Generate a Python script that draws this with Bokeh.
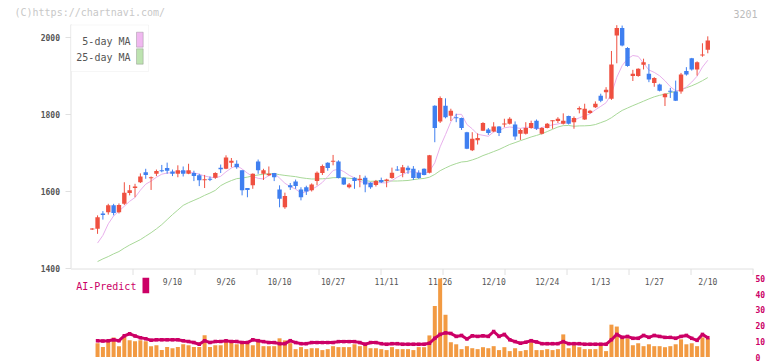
import pandas as pd
from bokeh.plotting import figure
from bokeh.models import Range1d, ColumnDataSource, Label, BoxAnnotation
from bokeh.core.properties import value
from bokeh.embed import file_html
from bokeh.resources import INLINE

nan = float("nan")

# ---------------- data ----------------
DATE_LABELS = ["9/10", "9/26", "10/10", "10/27", "11/11", "11/26",
               "12/10", "12/24", "1/13", "1/27", "2/10"]
LABEL_IDX = [15, 25, 35, 45, 55, 65, 75, 85, 95, 105, 115]

OPEN = [1502, 1503, 1543, 1546, 1564, 1546, 1568, 1596, 1609, 1624,
        1650, 1635, 1646, 1655, 1661, 1652, 1646, 1655, 1646, 1648,
        1642, 1630, 1632, 1636, 1662, 1659, 1675, 1672, 1655, 1609,
        1616, 1678, 1646, 1642, 1648, 1605, 1559, 1616, 1626, 1605,
        1611, 1603, 1627, 1648, 1675, 1678, 1678, 1636, 1611, 1636,
        1630, 1636, 1623, 1617, 1630, 1627, 1635, 1657, 1648, 1662,
        1659, 1649, 1659, 1649, 1823, 1782, 1823, 1797, 1792, 1791,
        1754, 1707, 1733, 1758, 1761, 1756, 1769, 1775, 1776, 1774,
        1750, 1750, 1765, 1784, 1750, 1765, 1784, 1783, 1776, 1796,
        1780, 1813, 1787, 1804, 1819, 1849, 1858, 1841, 2005, 2025,
        1973, 1900, 1900, 1929, 1906, 1882, 1878, 1845, 1861, 1860,
        1860, 1913, 1946, 1917, 1954, 1968]
HIGH = [1505, 1538, 1549, 1568, 1568, 1569, 1624, 1617, 1620, 1647,
        1659, 1639, 1657, 1669, 1675, 1657, 1668, 1665, 1672, 1654,
        1646, 1643, 1639, 1650, 1670, 1694, 1687, 1681, 1655, 1609,
        1647, 1683, 1659, 1665, 1648, 1616, 1597, 1622, 1631, 1611,
        1615, 1621, 1652, 1670, 1676, 1695, 1681, 1637, 1622, 1637,
        1643, 1641, 1624, 1630, 1636, 1633, 1662, 1666, 1669, 1667,
        1666, 1655, 1660, 1695, 1824, 1847, 1842, 1815, 1802, 1792,
        1755, 1754, 1751, 1780, 1765, 1780, 1770, 1789, 1793, 1782,
        1763, 1780, 1784, 1787, 1767, 1778, 1785, 1793, 1803, 1797,
        1795, 1821, 1828, 1812, 1834, 1854, 1871, 1965, 2032, 2031,
        1975, 1916, 1920, 1945, 1931, 1897, 1880, 1855, 1869, 1888,
        1908, 1923, 1947, 1938, 1985, 2003]
LOW = [1500, 1490, 1527, 1540, 1538, 1543, 1565, 1590, 1585, 1622,
       1633, 1604, 1640, 1650, 1646, 1640, 1637, 1639, 1645, 1627,
       1614, 1609, 1627, 1633, 1648, 1658, 1663, 1659, 1590, 1585,
       1607, 1646, 1630, 1640, 1627, 1559, 1555, 1604, 1607, 1577,
       1591, 1600, 1616, 1643, 1654, 1668, 1634, 1617, 1608, 1607,
       1611, 1598, 1607, 1613, 1622, 1611, 1633, 1654, 1637, 1646,
       1630, 1633, 1642, 1647, 1728, 1778, 1790, 1783, 1780, 1760,
       1710, 1705, 1722, 1757, 1747, 1754, 1744, 1767, 1774, 1734,
       1734, 1748, 1763, 1760, 1748, 1764, 1763, 1778, 1774, 1774,
       1763, 1803, 1786, 1802, 1817, 1832, 1841, 1838, 1933, 1977,
       1924, 1887, 1898, 1917, 1884, 1872, 1860, 1822, 1843, 1835,
       1854, 1901, 1914, 1901, 1950, 1959]
CLOSE = [1503, 1533, 1539, 1564, 1544, 1565, 1597, 1603, 1613, 1639,
         1643, 1637, 1653, 1653, 1654, 1646, 1655, 1646, 1655, 1640,
         1629, 1631, 1631, 1648, 1658, 1688, 1680, 1663, 1603, 1604,
         1646, 1655, 1655, 1646, 1637, 1581, 1588, 1611, 1614, 1585,
         1600, 1618, 1649, 1666, 1661, 1679, 1635, 1618, 1618, 1627,
         1633, 1618, 1611, 1627, 1624, 1631, 1649, 1655, 1663, 1655,
         1635, 1635, 1643, 1694, 1765, 1843, 1793, 1810, 1791, 1765,
         1711, 1737, 1739, 1778, 1752, 1769, 1752, 1776, 1789, 1743,
         1760, 1765, 1778, 1763, 1765, 1776, 1784, 1789, 1784, 1776,
         1791, 1817, 1815, 1810, 1828, 1836, 1864, 1930, 2025, 1979,
         1926, 1906, 1919, 1936, 1891, 1895, 1862, 1854, 1860, 1836,
         1904, 1904, 1917, 1936, 1955, 1992]

VOLUME = [nan,
          8.8, 6.3, 10.2, 12.5, 6.9, 13.5, 10.6, 10, 10.6, 10,
          6.9, 7.5, 4.4, 6.3, 5.6, 6.3, 8.1, 7.5, 6.3, 6.3,
          13.8, 6.3, 7.5, 7.5, 10, 10, 8.1, 8.8, 8.8, 7.5,
          10, 6.9, 6.9, 6.9, 11.9, 10.6, 8.8, 5, 6.3, 5,
          5.6, 5.6, 4.4, 5, 6.9, 6.3, 6.3, 6.3, 8.1, 6.9,
          8.1, 5.6, 5.6, 5, 4.4, 6.3, 5, 5, 5, 4.4, 6.3,
          6.25, 13.75, 32.5, 50, 26.9, 9.4, 8.1, 5, 6.9, 5.6,
          5, 6.25, 5.6, 6.9, 4.4, 6.25, 3.75, 5.6, 3.75, 4.4,
          9.4, 4.4, 4.4, 5, 4.4, 5, 14.4, 5.6, 7.5, 6.25,
          5, 5, 5, 7.5, 3.75, 20.6, 19.4, 11.9, 11.9, 7.5,
          8.75, 6.9, 8.1, 6.9, 6.9, 6.25, 6.9, 8.1, 11.25, 8.1,
          8.75, 6.9, 12.5, 11.9]
AI_PREDICT = [nan,
              10.4, 10.2, 10.4, 11, 10.4, 13.5, 14.8, 13.4, 12.3, 11.7,
              10.6, 11, 11, 11, 11, 11, 10.4, 9.8, 9.2, 8.1,
              10.4, 9.2, 9.8, 9.8, 10.4, 9.8, 9.8, 9.2, 9.2, 11,
              10.4, 9.8, 9.2, 9.2, 8.5, 8.5, 10.4, 9.2, 8.5, 8.5,
              9.2, 9.2, 9.2, 9.2, 9.2, 9.8, 9.8, 9.8, 9.8, 9.2,
              8.1, 9.2, 9.2, 8.5, 8.1, 8.5, 8.5, 8.1, 8.1, 8.1, 8.1,
              8.1, 8.75, 11.9, 14.4, 15.4, 15, 13.1, 13.75, 11.5, 13.5,
              13.1, 13.5, 13.1, 16.25, 13.1, 14.4, 11, 9.8, 8.75, 9.4,
              10.4, 9.6, 8.5, 8.5, 8.5, 8.5, 9.8, 8.5, 8.5, 8.5,
              8.1, 8.1, 8.1, 8.1, 8.1, 11, 14.4, 12.5, 13.1, 11.9,
              11.9, 13.75, 12.5, 13.75, 13.1, 12.5, 12.5, 11.9, 13.1, 13.75,
              11.9, 10.6, 14.4, 12.3]

# moving-average values read off the picture where the window is not yet full
MA5_HEAD = [nan, 1466, 1486, 1516]
MA25_HEAD = [nan, 1418, 1425, 1431, 1438, 1444, 1453, 1461, 1468, 1475,
             1484, 1493, 1503, 1514, 1527, 1540, 1552, 1564, 1571, 1577,
             1583, 1590, 1596, 1603]

PRICE_TICKS = [1400, 1600, 1800, 2000]
VOL_TICKS = [0, 10, 20, 30, 40, 50]

# ---------------- derived series ----------------
N = len(CLOSE)
IDX = list(range(N))
cs = pd.Series(CLOSE, dtype=float)
ma5 = cs.rolling(5).mean().tolist()
ma5[:len(MA5_HEAD)] = MA5_HEAD
ma25 = cs.rolling(25).mean().tolist()
ma25[:len(MA25_HEAD)] = MA25_HEAD

# ---------------- layout (page pixels) ----------------
W, H = 772, 361
AX_L, AX_R = 70, 752               # extent of the price axes
X0_PX, SLOT = 91.7, 5.353          # pixel of first candle, pixels per trading day
PY2000, PPU = 37.0, 0.385          # pixel of price 2000, pixels per yen
VOL0_PY, VPU = 356.5, 1.57         # pixel of volume 0, pixels per unit


def px_x(px):
    return (px - X0_PX) / SLOT


def px_price(py):
    return 2000 - (py - PY2000) / PPU


def px_vol(py):
    return (VOL0_PY - py) / VPU


MONO = "DejaVu Sans Mono"
UP, DOWN = "#ef5040", "#3f7ff0"
AXIS_C = "#e0e0e0"
MAG = "#cc0066"

p = figure(width=W, height=H, title=None,
           x_range=Range1d(px_x(0), px_x(W)),
           y_range=Range1d(px_price(H), px_price(0)),
           output_backend="svg", toolbar_location=None,
           x_axis_location=None, y_axis_location=None,
           min_border=0, outline_line_color=None,
           background_fill_color="white", border_fill_color="white")
p.extra_y_ranges = {"vol": Range1d(px_vol(H), px_vol(0))}
p.grid.grid_line_color = None

# header
p.text(x=[px_x(14)], y=[px_price(12)], text=["(C)https://chartnavi.com/"],
       text_align="left", text_baseline="middle",
       text_font=value(MONO), text_font_size=value("10px"), text_color="#c8c8c8")
p.text(x=[px_x(757)], y=[px_price(13)], text=["3201"],
       text_align="right", text_baseline="middle",
       text_font=value(MONO), text_font_size=value("10px"), text_color="#bbbbbb")

# price axis (left): line, ticks, labels
xa = px_x(AX_L + 0.5)
p.segment(x0=[xa], y0=[px_price(268)], x1=[xa], y1=[px_price(24)],
          line_color=AXIS_C, line_width=1)
p.segment(x0=[px_x(65)] * len(PRICE_TICKS), y0=PRICE_TICKS,
          x1=[xa] * len(PRICE_TICKS), y1=PRICE_TICKS,
          line_color=AXIS_C, line_width=1)
p.text(x=[px_x(59.5)] * len(PRICE_TICKS), y=PRICE_TICKS,
       text=[str(t) for t in PRICE_TICKS],
       text_align="right", text_baseline="middle",
       text_font=value(MONO), text_font_size=value("8px"),
       text_font_style="bold", text_color="#555555")

# time axis (at price 1400) with its tick marks
ya0 = px_price(268.5)
xticks = [px_x(AX_L + 62 * k + 0.5) for k in range(1, 12)]
p.segment(x0=[xa], y0=[ya0], x1=[px_x(AX_R + 1)], y1=[ya0],
          line_color=AXIS_C, line_width=1)
p.segment(x0=xticks, y0=[ya0] * len(xticks), x1=xticks,
          y1=[px_price(274.5)] * len(xticks),
          line_color=AXIS_C, line_width=1)
p.text(x=LABEL_IDX, y=[px_price(282)] * len(LABEL_IDX), text=DATE_LABELS,
       text_align="center", text_baseline="middle",
       text_font=value(MONO), text_font_size=value("8px"),
       text_color="#555555")

# volume axis labels (right)
p.text(x=[px_x(755)] * len(VOL_TICKS), y=VOL_TICKS, y_range_name="vol",
       text=[str(t) for t in VOL_TICKS],
       text_align="left", text_baseline="middle",
       text_font=value(MONO), text_font_size=value("8px"),
       text_font_style="bold", text_color=MAG)

# moving averages
p.line(IDX, ma25, line_color="#a8d898", line_width=1)
p.line(IDX, ma5, line_color="#e8b0ec", line_width=1)

# candles
min_h = 1.0 / PPU
tops, bots, cols = [], [], []
for o, c in zip(OPEN, CLOSE):
    hi, lo = max(o, c), min(o, c)
    if hi - lo < min_h:
        m = (hi + lo) / 2
        hi, lo = m + min_h / 2, m - min_h / 2
    tops.append(hi)
    bots.append(lo)
    cols.append(UP if c >= o else DOWN)
src = ColumnDataSource(dict(x=IDX, high=HIGH, low=LOW, top=tops, bottom=bots, color=cols))
p.segment(x0="x", y0="high", x1="x", y1="low", line_color="color", line_width=1, source=src)
p.vbar(x="x", width=0.82, top="top", bottom="bottom", fill_color="color",
       line_color=None, source=src)

# volume + AI prediction
p.vbar(x=IDX, width=0.75, top=VOLUME, bottom=0, y_range_name="vol",
       fill_color="#f29a42", line_color=None)
p.line(IDX, AI_PREDICT, y_range_name="vol", line_color=MAG, line_width=3)
p.scatter(IDX, AI_PREDICT, y_range_name="vol", marker="square", size=3.5,
          fill_color=MAG, line_color=None)

# AI-Predict legend
p.add_layout(Label(x=px_x(75.7), y=px_price(285.7), text="AI-Predict",
                   text_align="left", text_baseline="middle",
                   text_font=MONO, text_font_size="10px", text_color=MAG))
p.add_layout(BoxAnnotation(left=px_x(142), right=px_x(148.7),
                           top=px_price(277.3), bottom=px_price(292.7),
                           fill_color=MAG, fill_alpha=1, line_color=None))

# MA legend box
p.add_layout(BoxAnnotation(left=px_x(70.5), right=px_x(148),
                           top=px_price(24.5), bottom=px_price(71),
                           fill_color="white", fill_alpha=1,
                           line_color=AXIS_C, line_width=1))
for txt, ty, sw_top, sw_bot, fc in [("5-day MA", 40.7, 31.7, 46.7, "#f0b8f0"),
                                    ("25-day MA", 57.3, 48.3, 63.7, "#bde3b0")]:
    p.add_layout(Label(x=px_x(130), y=px_price(ty), text=txt,
                       text_align="right", text_baseline="middle",
                       text_font=MONO, text_font_size="10px",
                       text_color="#555555"))
    p.add_layout(BoxAnnotation(left=px_x(136), right=px_x(142.7),
                               top=px_price(sw_top), bottom=px_price(sw_bot),
                               fill_color=fc, fill_alpha=1,
                               line_color="#666666", line_width=1))

open("out.html", "w").write(file_html(p, INLINE))
